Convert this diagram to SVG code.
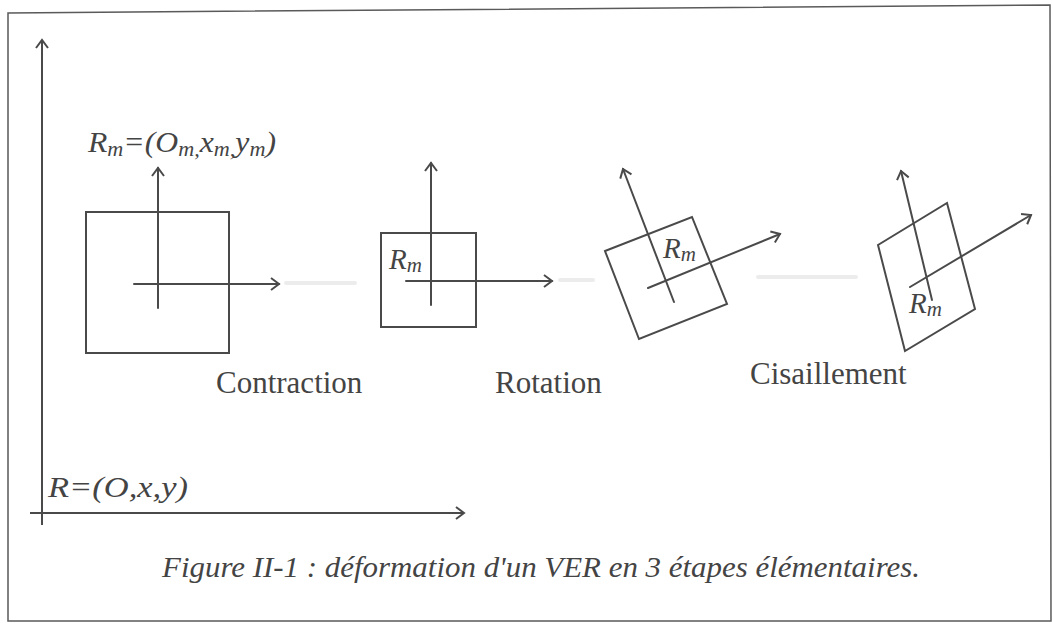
<svg xmlns="http://www.w3.org/2000/svg" width="1053" height="623" viewBox="0 0 1053 623">
<style>
.ln{stroke:#4a4a4a;stroke-width:2;fill:none;stroke-linecap:round;stroke-linejoin:miter}
.ax{stroke:#4a4a4a;stroke-width:2;fill:none;marker-end:url(#ah)}
.it{font-family:"Liberation Serif","Times New Roman",serif;font-style:italic;fill:#444}
.rm{font-family:"Liberation Serif","Times New Roman",serif;fill:#444;font-size:31px}
.faint{stroke:#ececec;stroke-width:4;stroke-linecap:round;fill:none}
</style>
<defs>
<marker id="ah" viewBox="-10 -8 12 16" markerWidth="12" markerHeight="16" refX="0" refY="0" markerUnits="userSpaceOnUse" orient="auto">
<path d="M-8,-6 L0,0 L-8,6" fill="none" stroke="#4a4a4a" stroke-width="2"/>
</marker>
</defs>
<rect width="1053" height="623" fill="#ffffff"/>
<g id="frame">
<path d="M8,13 L1050,5 L1051,621 L8,621 Z" fill="none" stroke="#5a5a5a" stroke-width="1.5"/>
</g>
<g id="global-frame">
<line class="ax" x1="42" y1="525" x2="42" y2="40"/>
<line class="ax" x1="30" y1="513" x2="464" y2="513"/>
<text class="it" x="48" y="497" font-size="30" textLength="140" lengthAdjust="spacingAndGlyphs">R=(O,x,y)</text>
</g>
<g id="initial">
<rect class="ln" x="86" y="212" width="143" height="141"/>
<line class="ln" x1="158" y1="308" x2="158" y2="168" marker-end="url(#ah)"/>
<line class="ln" x1="134" y1="284" x2="279" y2="284" marker-end="url(#ah)"/>
<text class="it" x="88" y="152" font-size="30" textLength="188" lengthAdjust="spacingAndGlyphs">R<tspan font-size="21" dy="4">m</tspan><tspan dy="-4">=(O</tspan><tspan font-size="21" dy="4">m,</tspan><tspan dy="-4">x</tspan><tspan font-size="21" dy="4">m,</tspan><tspan dy="-4">y</tspan><tspan font-size="21" dy="4">m</tspan><tspan dy="-4">)</tspan></text>
</g>
<g id="contraction">
<rect class="ln" x="381" y="233" width="95" height="94"/>
<line class="ln" x1="431" y1="305" x2="431" y2="163" marker-end="url(#ah)"/>
<line class="ln" x1="406" y1="281" x2="552" y2="281" marker-end="url(#ah)"/>
<text class="it" x="389" y="269" font-size="29">R<tspan font-size="21" dy="3">m</tspan></text>
<text class="rm" x="216" y="393">Contraction</text>
</g>
<g id="rotation">
<polygon class="ln" points="605,251 692,217 727,304 639,339"/>
<line class="ln" x1="674" y1="302" x2="623" y2="169" marker-end="url(#ah)"/>
<line class="ln" x1="648" y1="288" x2="780" y2="234" marker-end="url(#ah)"/>
<text class="it" x="663" y="258" font-size="29">R<tspan font-size="21" dy="3">m</tspan></text>
<text class="rm" x="495" y="393">Rotation</text>
</g>
<g id="cisaillement">
<polygon class="ln" points="878,245 947,203 975,309 905,351"/>
<line class="ln" x1="932" y1="300" x2="901" y2="171" marker-end="url(#ah)"/>
<line class="ln" x1="910" y1="287" x2="1031" y2="215" marker-end="url(#ah)"/>
<text class="it" x="909" y="313" font-size="29">R<tspan font-size="21" dy="3">m</tspan></text>
<text class="rm" x="750" y="384">Cisaillement</text>
</g>
<g id="connectors">
<line class="faint" x1="286" y1="283" x2="355" y2="283"/>
<line class="faint" x1="560" y1="280" x2="593" y2="280"/>
<line class="faint" x1="758" y1="277" x2="856" y2="277"/>
</g>
<g id="caption">
<text class="it" x="162" y="577" font-size="29" textLength="758" lengthAdjust="spacingAndGlyphs">Figure II-1 : déformation d'un VER en 3 étapes élémentaires.</text>
</g>
</svg>
